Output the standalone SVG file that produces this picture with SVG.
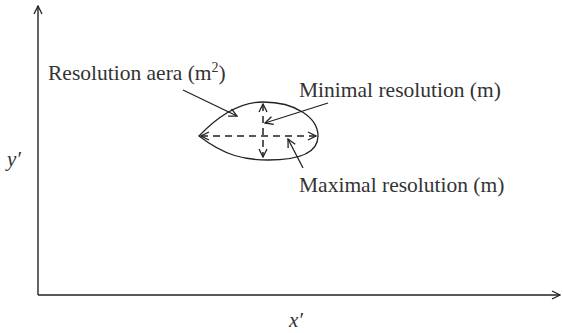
<svg xmlns="http://www.w3.org/2000/svg" width="563" height="333" viewBox="0 0 563 333">
<defs>
<style>
.ax{stroke:#222;stroke-width:1.4;fill:none}
.ln{stroke:#222;stroke-width:1.3;fill:none}
.dash{stroke:#222;stroke-width:1.5;fill:none;stroke-dasharray:7,5}
.t{font-family:"Liberation Serif",serif;font-size:21.5px;fill:#333}
.it{font-family:"Liberation Serif",serif;font-size:21px;font-style:italic;fill:#333}
</style>
<marker id="oa" viewBox="0 0 10 10" refX="9" refY="5" markerWidth="10" markerHeight="10" markerUnits="userSpaceOnUse" orient="auto-start-reverse">
<path d="M1,1 L9,5 L1,9" fill="none" stroke="#222" stroke-width="1.3"/>
</marker>
</defs>
<g id="axes">
<line class="ax" x1="38" y1="295" x2="38" y2="6" marker-end="url(#oa)"/>
<line class="ax" x1="38" y1="295" x2="560" y2="295" marker-end="url(#oa)"/>
<text class="it" x="7" y="166">y′</text>
<text class="it" x="289" y="327">x′</text>
</g>
<g id="region">
<path class="ln" d="M199,136 C222,112 242,102 263,102 C296,102 318,118 318,136 C318,154 298,160 268,160 C245,160 225,156 199,136 Z"/>
</g>
<g id="connectors">
<line class="dash" x1="201" y1="136" x2="316" y2="136" marker-start="url(#oa)" marker-end="url(#oa)"/>
<line class="dash" x1="263" y1="104" x2="263" y2="157" marker-start="url(#oa)" marker-end="url(#oa)"/>
<line class="ln" x1="183" y1="90" x2="237" y2="116" marker-end="url(#oa)"/>
<line class="ln" x1="328" y1="103" x2="265" y2="123" marker-end="url(#oa)"/>
<line class="ln" x1="303" y1="168" x2="288" y2="139" marker-end="url(#oa)"/>
</g>
<g id="labels">
<text class="t" x="48" y="80">Resolution aera (m<tspan font-size="14" dy="-8">2</tspan><tspan dy="8">)</tspan></text>
<text class="t" x="299" y="97">Minimal resolution (m)</text>
<text class="t" x="299" y="192">Maximal resolution (m)</text>
</g>
</svg>
